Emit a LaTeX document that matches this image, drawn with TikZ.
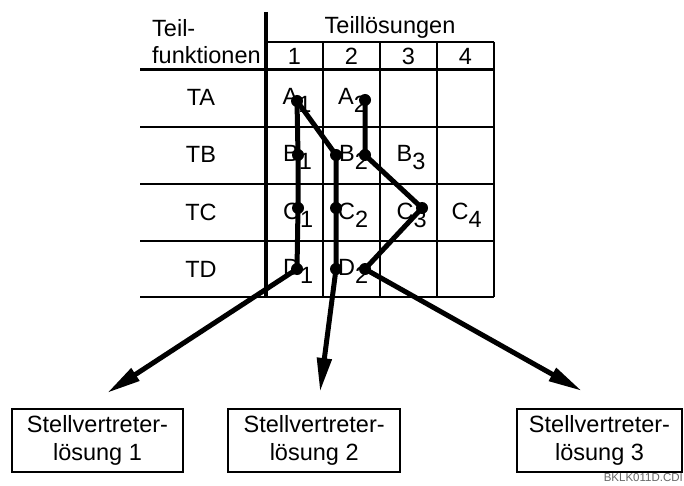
\documentclass[tikz,border=0pt]{standalone}
\usepackage{fontspec}
\setmainfont{Liberation Sans}
\usetikzlibrary{arrows.meta}
\newcommand\sbs[1]{\raisebox{-8pt}{#1}}
\begin{document}
\begin{tikzpicture}[x=1pt,y=-1pt,
  every node/.style={font=\fontsize{23.5}{28}\selectfont, inner sep=0pt},
  gridline/.style={line width=1.9pt},
  lbl/.style={anchor=base west},
  hdr/.style={anchor=base},
  dot/.style={circle, fill=black, minimum size=12pt, inner sep=0pt},
  pathline/.style={line width=5pt, line join=round},
  arr/.style={line width=5pt, -{Triangle[length=34pt,width=14pt]}},
  box/.style={draw, line width=2pt, align=center, minimum height=62.7pt}
]
\useasboundingbox (0,0) rectangle (684,486);

% grid
\draw[line width=3.5pt] (266,12) -- (266,297);
\draw[gridline] (266,41.7) -- (494,41.7);
\draw[line width=3pt] (140,70) -- (494,70);
\foreach \yy in {127,184,241,297} \draw[gridline] (140,\yy) -- (494,\yy);
\foreach \xx in {323,380,437,494} \draw[gridline] (\xx,41.7) -- (\xx,297);

% header texts
\node[hdr] (tl) at (390,33.3) {Teillösungen};
\node[anchor=base west] (tf1) at (152,36.7) {Teil-};
\node[anchor=base west] (tf2) at (152,63.3) {funktionen};
\node[hdr] (h1) at (294.5,65) {1};
\node[hdr] (h2) at (351.5,65) {2};
\node[hdr] (h3) at (408.5,65) {3};
\node[hdr] (h4) at (465.5,65) {4};
\node[hdr] (ta) at (201,106) {TA};
\node[hdr] (tb) at (201,163) {TB};
\node[hdr] (tc) at (201,220) {TC};
\node[hdr] (td) at (201,277) {TD};

% cell labels
\node[lbl] (la1) at (282.5,105) {A\sbs{1}};
\node[lbl] (la2) at (338,105) {A\sbs{2}};
\node[lbl] (lb1) at (283,162) {B\sbs{1}};
\node[lbl] (lb2) at (339,162) {B\sbs{2}};
\node[lbl] (lb3) at (396.5,162) {B\sbs{3}};
\node[lbl] (lc1) at (283,219.5) {C\sbs{1}};
\node[lbl] (lc2) at (338,219.5) {C\sbs{2}};
\node[lbl] (lc3) at (396.5,219.5) {C\sbs{3}};
\node[lbl] (lc4) at (451.5,219.5) {C\sbs{4}};
\node[lbl] (ld1) at (283,275) {D\sbs{1}};
\node[lbl] (ld2) at (338,275) {D\sbs{2}};

% dots
\node[dot] (a1) at (297,101) {};
\node[dot] (a2) at (365,100) {};
\node[dot] (b1) at (298,155) {};
\node[dot] (b2l) at (336,155) {};
\node[dot] (b2r) at (365,155) {};
\node[dot] (c1) at (298,208) {};
\node[dot] (c2) at (336,208) {};
\node[dot] (c3) at (422,208) {};
\node[dot] (d1) at (297,269) {};
\node[dot] (d2l) at (336,269) {};
\node[dot] (d2r) at (365,269) {};

% paths
\draw[pathline] (a1.center) -- (b1.center) -- (c1.center) -- (d1.center);
\draw[pathline] (a1.center) -- (b2l.center) -- (c2.center) -- (d2l.center);
\draw[pathline] (a2.center) -- (b2r.center) -- (c3.center) -- (d2r.center);

% arrow tips
\coordinate (t1) at (107,393);
\coordinate (t2) at (320,392);
\coordinate (t3) at (582,391);
\draw[arr] (d1.center) -- (t1);
\draw[arr] (d2l.center) -- (t2);
\draw[arr] (d2r.center) -- (t3);

% boxes
\node[box, minimum width=171.6pt] (s1) at (97.5,440.3) {Stellvertreter-\\lösung 1};
\node[box, minimum width=171.7pt] (s2) at (314.2,440.3) {Stellvertreter-\\lösung 2};
\node[box, minimum width=165pt] (s3) at (599.5,440.3) {Stellvertreter-\\lösung 3};

\node[anchor=base east, font=\fontsize{11.5}{14}\selectfont, text=black!60] (code) at (683,481) {BKLK011D.CDI};
\end{tikzpicture}
\end{document}
